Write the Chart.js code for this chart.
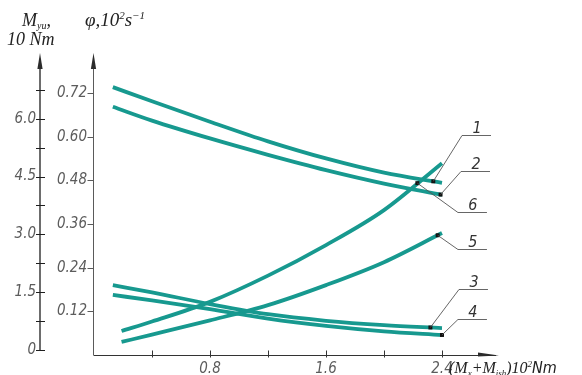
<!DOCTYPE html>
<html>
<head>
<meta charset="utf-8">
<script src="https://cdn.jsdelivr.net/npm/chart.js"></script>
<style>
  html, body { margin: 0; padding: 0; background: #fff; }
</style>
</head>
<body>
<canvas id="chart" width="582" height="375"></canvas>
<script>
// ---- data ----
// x: (Mc + Mish), 10^2 Nm ; y: phi, 10^2 s^-1
const xTop = [0.13, 0.4, 0.8, 1.2, 1.6, 2.0, 2.4];
const curve1 = [0.736, 0.697, 0.641, 0.587, 0.540, 0.501, 0.473];
const curve2 = [0.682, 0.644, 0.595, 0.550, 0.508, 0.471, 0.440];

const xLow = [0.13, 0.4, 0.8, 1.2, 1.6, 2.0, 2.4];
const curve3 = [0.192, 0.172, 0.140, 0.112, 0.094, 0.082, 0.074];
const curve4 = [0.165, 0.150, 0.126, 0.100, 0.080, 0.065, 0.055];

const xRise = [0.19, 0.4, 0.8, 1.2, 1.6, 2.0, 2.4];
const curve5 = [0.036, 0.056, 0.095, 0.137, 0.192, 0.255, 0.335];
const curve6 = [0.066, 0.092, 0.146, 0.218, 0.302, 0.398, 0.527];

// axis ticks
const xTicks = [0.4, 0.8, 1.2, 1.6, 2.0, 2.4];
const xLabels = ["", "0.8", "", "1.6", "", "2.4"];
const phiTicks = [0.12, 0.24, 0.36, 0.48, 0.60, 0.72];
const phiLabels = ["0.12", "0.24", "0.36", "0.48", "0.60", "0.72"];
const mTicks = [0, 0.75, 1.5, 2.25, 3.0, 3.75, 4.5, 5.25, 6.0, 6.75];
const mLabels = ["0", "", "1.5", "", "3.0", "", "4.5", "", "6.0", ""];

// numbered callouts: curve number, x of the marker, elbow of the leader (data units)
const calloutNames = ["1", "2", "6", "5", "3", "4"];
const calloutCurves = [curve1, curve2, curve6, curve5, curve3, curve4];
const calloutXs = [xTop, xTop, xRise, xRise, xLow, xLow];
const calloutAt = [2.34, 2.39, 2.23, 2.37, 2.32, 2.4];
const elbowX = [2.538, 2.531, 2.510, 2.510, 2.517, 2.510];
const elbowY = [0.604, 0.505, 0.393, 0.291, 0.181, 0.099];

const TEAL = "#17998f";
const INK = "#2b2b2b";
const LABEL_FONT = '"Liberation Sans Narrow", "DejaVu Sans Condensed", sans-serif';
const SERIF = '"Liberation Serif", "DejaVu Serif", serif';

function interp(xs, ys, x) {
  for (let i = 1; i < xs.length; i++) {
    if (x <= xs[i]) {
      const t = (x - xs[i - 1]) / (xs[i] - xs[i - 1]);
      return ys[i - 1] + t * (ys[i] - ys[i - 1]);
    }
  }
  return ys[ys.length - 1];
}

function curveSet(xs, ys) {
  return {
    type: "line",
    data: xs.map((x, i) => ({ x, y: ys[i] })),
    borderColor: TEAL,
    borderWidth: 3.8,
    borderCapStyle: "butt",
    pointRadius: 0,
    cubicInterpolationMode: "monotone",
    fill: false,
    yAxisID: "y"
  };
}

// small black squares where the leaders touch the curves (drawn on top)
const markers = {
  type: "scatter",
  data: calloutNames.map((n, i) => ({ x: calloutAt[i], y: interp(calloutXs[i], calloutCurves[i], calloutAt[i]) })),
  pointStyle: "rect",
  pointRadius: 2.8,
  backgroundColor: "#111",
  borderWidth: 0,
  order: -1,
  yAxisID: "y"
};

// draw text pieces one after another (for sub/superscripts)
function richText(ctx, x, y, parts) {
  parts.forEach(p => {
    ctx.font = p.font;
    ctx.fillText(p.t, x, y + (p.dy || 0));
    x += ctx.measureText(p.t).width + (p.gap || 0);
  });
}

function arrowUp(ctx, x, tip) {
  ctx.beginPath();
  ctx.moveTo(x, tip);
  ctx.lineTo(x - 2.6, tip + 16);
  ctx.lineTo(x + 2.6, tip + 16);
  ctx.closePath();
  ctx.fill();
}

const sketch = {
  id: "sketch",
  afterDraw(chart) {
    const ctx = chart.ctx;
    const { x, y, m } = chart.scales;
    const area = chart.chartArea;
    ctx.save();
    ctx.fillStyle = INK;

    // moment axis (far left)
    const mx = m.right - 4;
    ctx.strokeStyle = "#1e1e1e";
    ctx.lineWidth = 1.3;
    ctx.beginPath();
    ctx.moveTo(mx, area.top + 6);
    ctx.lineTo(mx, m.getPixelForValue(0));
    ctx.stroke();
    arrowUp(ctx, mx, area.top - 1);
    ctx.lineWidth = 1;
    mTicks.forEach(v => {
      const py = Math.round(m.getPixelForValue(v)) + 0.5;
      ctx.beginPath();
      ctx.moveTo(mx - 4, py);
      ctx.lineTo(mx + 5, py);
      ctx.stroke();
    });

    // phi axis
    const px0 = area.left - 0.5;
    ctx.strokeStyle = "#5a5a5a";
    ctx.lineWidth = 1;
    ctx.beginPath();
    ctx.moveTo(px0, area.top + 6);
    ctx.lineTo(px0, area.bottom);
    ctx.stroke();
    arrowUp(ctx, px0, area.top - 1);
    phiTicks.forEach(v => {
      const py = Math.round(y.getPixelForValue(v)) + 0.5;
      ctx.beginPath();
      ctx.moveTo(px0 - 6, py);
      ctx.lineTo(px0, py);
      ctx.stroke();
    });

    // x axis
    const bx = area.bottom + 0.5;
    ctx.strokeStyle = "#333";
    ctx.lineWidth = 1.1;
    ctx.beginPath();
    ctx.moveTo(px0, bx);
    ctx.lineTo(area.right - 4, bx);
    ctx.stroke();
    ctx.beginPath();
    ctx.moveTo(area.right - 1, bx);
    ctx.lineTo(area.right - 22, bx - 3);
    ctx.lineTo(area.right - 22, bx + 1);
    ctx.closePath();
    ctx.fill();
    ctx.lineWidth = 1;
    xTicks.forEach(v => {
      const px = Math.round(x.getPixelForValue(v)) + 0.5;
      ctx.beginPath();
      ctx.moveTo(px, bx - 5);
      ctx.lineTo(px, bx + 2);
      ctx.stroke();
    });

    // axis titles
    ctx.fillStyle = "#222";
    ctx.textAlign = "left";
    ctx.textBaseline = "alphabetic";
    richText(ctx, 22, 26, [
      { t: "M", font: "italic 18px " + SERIF },
      { t: "yu", font: "italic 10px " + SERIF, dy: 3 },
      { t: ",", font: "italic 18px " + SERIF }
    ]);
    richText(ctx, 7, 45, [{ t: "10 Nm", font: "italic 18px " + SERIF }]);
    richText(ctx, 85, 26, [
      { t: "φ,10", font: "italic 19px " + SERIF },
      { t: "2", font: "italic 11px " + SERIF, dy: -7 },
      { t: "s", font: "italic 19px " + SERIF },
      { t: "−1", font: "italic 11px " + SERIF, dy: -7 }
    ]);
    richText(ctx, 449, 373, [
      { t: "(M", font: "italic 16px " + SERIF },
      { t: "x", font: "italic 9px " + SERIF, dy: 3 },
      { t: "+M", font: "italic 16px " + SERIF },
      { t: "ish", font: "italic 9px " + SERIF, dy: 3 },
      { t: ")10", font: "italic 16px " + SERIF },
      { t: "2", font: "italic 9px " + SERIF, dy: -6 },
      { t: "Nm", font: "italic 16px " + LABEL_FONT }
    ]);

    // numbered leaders
    ctx.strokeStyle = "#555";
    ctx.lineWidth = 0.9;
    ctx.fillStyle = "#333";
    ctx.font = "italic 16px " + LABEL_FONT;
    ctx.textAlign = "center";
    calloutNames.forEach((name, i) => {
      const dx = x.getPixelForValue(calloutAt[i]);
      const dy = y.getPixelForValue(interp(calloutXs[i], calloutCurves[i], calloutAt[i]));
      const ex = x.getPixelForValue(elbowX[i]);
      const ey = Math.round(y.getPixelForValue(elbowY[i])) + 0.5;
      ctx.beginPath();
      ctx.moveTo(dx, dy);
      ctx.lineTo(ex, ey);
      ctx.lineTo(ex + 29, ey);
      ctx.stroke();
      ctx.fillText(name, ex + 15, ey - 3);
    });
    ctx.restore();
  }
};

const tickFont = { family: LABEL_FONT, size: 15, style: "italic" };

new Chart(document.getElementById("chart"), {
  data: {
    datasets: [
      curveSet(xTop, curve1),
      curveSet(xTop, curve2),
      curveSet(xLow, curve3),
      curveSet(xLow, curve4),
      curveSet(xRise, curve5),
      curveSet(xRise, curve6),
      markers
    ]
  },
  options: {
    responsive: false,
    animation: false,
    layout: { padding: { top: 54, right: 82, bottom: 0, left: 0 } },
    plugins: { legend: { display: false }, tooltip: { enabled: false } },
    scales: {
      x: {
        type: "linear",
        min: 0,
        max: 2.8,
        afterBuildTicks: s => { s.ticks = xTicks.map(v => ({ value: v })); },
        afterFit: s => { s.height = 20; },
        ticks: {
          autoSkip: false,
          maxRotation: 0,
          padding: 5,
          color: "#5c5c5c",
          font: tickFont,
          callback: (v, i) => xLabels[i]
        },
        grid: { display: false, drawTicks: false },
        border: { display: false }
      },
      m: {
        type: "linear",
        position: "left",
        weight: 2,
        min: -0.13,
        max: 7.68,
        afterBuildTicks: s => { s.ticks = mTicks.map(v => ({ value: v })); },
        afterFit: s => { s.width = 44; },
        ticks: {
          autoSkip: false,
          padding: 8,
          color: "#5c5c5c",
          font: tickFont,
          callback: (v, i) => mLabels[i]
        },
        grid: { display: false, drawTicks: false },
        border: { display: false }
      },
      y: {
        type: "linear",
        position: "left",
        weight: 1,
        min: 0,
        max: 0.827,
        afterBuildTicks: s => { s.ticks = phiTicks.map(v => ({ value: v })); },
        afterFit: s => { s.width = 50; },
        ticks: {
          autoSkip: false,
          padding: 7,
          color: "#5c5c5c",
          font: tickFont,
          callback: (v, i) => phiLabels[i]
        },
        grid: { display: false, drawTicks: false },
        border: { display: false }
      }
    }
  },
  plugins: [sketch]
});
</script>
</body>
</html>
